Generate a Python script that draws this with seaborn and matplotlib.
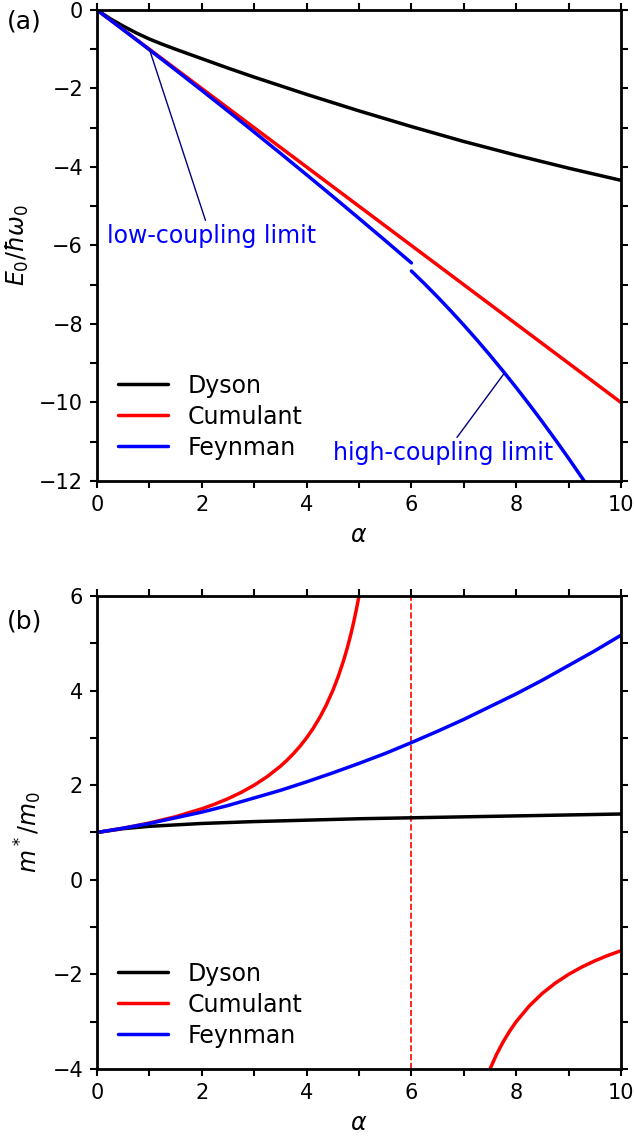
import pandas as pd
import matplotlib
matplotlib.use("Agg")
import matplotlib.pyplot as plt
import seaborn as sns
from matplotlib.ticker import MultipleLocator

# ---- panel (a): ground-state energy E0/hbar w0 vs alpha ----
alpha_dyson_e = [0, 0.25, 0.5, 0.75, 1, 1.25, 1.5, 2, 2.5, 3, 3.5, 4, 5, 6,
                 7, 8, 9, 10]
e_dyson = [0, -0.22, -0.41, -0.585, -0.74, -0.875, -1.00, -1.24, -1.48,
           -1.71, -1.93, -2.15, -2.57, -2.97, -3.35, -3.70, -4.03, -4.34]

alpha_cum_e = [0, 10]
e_cum = [0, -10]

alpha_feyn_low = [0, 0.5, 1, 1.5, 2, 2.5, 3, 3.5, 4, 4.5, 5, 5.5, 6]
e_feyn_low = [0, -0.503, -1.012, -1.528, -2.049, -2.577, -3.111, -3.651,
              -4.198, -4.750, -5.309, -5.873, -6.444]
alpha_feyn_high = [6, 6.25, 6.5, 6.75, 7, 7.25, 7.5, 7.75, 8, 8.25, 8.5,
                   8.75, 9, 9.3]
e_feyn_high = [-6.649, -6.974, -7.312, -7.664, -8.028, -8.406, -8.797,
               -9.202, -9.620, -10.051, -10.495, -10.953, -11.423, -12.006]

# ---- panel (b): effective mass m*/m0 vs alpha ----
alpha_dyson_m = [0, 0.5, 1, 1.5, 2, 3, 4, 5, 6, 7, 8, 9, 10]
m_dyson = [1.0, 1.08, 1.13, 1.16, 1.19, 1.23, 1.26, 1.29, 1.31, 1.33, 1.35,
           1.37, 1.39]

alpha_cum_m1 = [0, 0.5, 1, 1.5, 2, 2.25, 2.5, 2.75, 3, 3.25, 3.5, 3.625,
                3.75, 3.875, 4, 4.125, 4.25, 4.375, 4.5, 4.6, 4.7, 4.75,
                4.8, 4.85, 4.9, 4.95, 5.0, 5.05]
m_cum1 = [1.0, 1.091, 1.2, 1.333, 1.5, 1.6, 1.714, 1.846, 2.0, 2.182, 2.4,
          2.526, 2.667, 2.824, 3.0, 3.2, 3.429, 3.692, 4.0, 4.286, 4.615,
          4.8, 5.0, 5.217, 5.455, 5.714, 6.0, 6.316]
alpha_cum_m2 = [7.45, 7.5, 7.625, 7.75, 7.875, 8, 8.25, 8.5, 8.75, 9, 9.25,
                9.5, 9.75, 10]
m_cum2 = [-4.138, -4.0, -3.692, -3.429, -3.2, -3.0, -2.667, -2.4, -2.182,
          -2.0, -1.846, -1.714, -1.6, -1.5]

alpha_feyn_m = [0, 0.5, 1, 1.5, 2, 2.5, 3, 3.5, 4, 4.5, 5, 5.5, 6, 6.5, 7,
                7.5, 8, 8.5, 9, 9.5, 10]
m_feyn = [1.0, 1.09, 1.19, 1.31, 1.43, 1.57, 1.73, 1.89, 2.07, 2.26, 2.46,
          2.67, 2.90, 3.14, 3.39, 3.66, 3.93, 4.22, 4.53, 4.84, 5.17]

colors = {"Dyson": "black", "Cumulant": "red", "Feynman": "blue"}

sns.set_style("ticks")
plt.rcParams["font.family"] = ["DejaVu Sans"]
plt.rcParams["mathtext.fontset"] = "dejavusans"
for key in ["axes.edgecolor", "axes.labelcolor", "text.color",
            "xtick.color", "ytick.color"]:
    plt.rcParams[key] = "black"

fig = plt.figure(figsize=(6.34, 11.36), dpi=100)
ax1 = fig.add_axes([0.153, 0.5766, 0.8265, 0.4146])
ax2 = fig.add_axes([0.153, 0.059, 0.8265, 0.4164])

lw = 2.5


def seg(ax, x, y, name, lab=True):
    sns.lineplot(x=x, y=y, ax=ax, color=colors[name], lw=lw,
                 label=name if lab else None, legend=False)


seg(ax1, alpha_dyson_e, e_dyson, "Dyson")
seg(ax1, alpha_cum_e, e_cum, "Cumulant")
seg(ax1, alpha_feyn_low, e_feyn_low, "Feynman")
seg(ax1, alpha_feyn_high, e_feyn_high, "Feynman", lab=False)

seg(ax2, alpha_dyson_m, m_dyson, "Dyson")
seg(ax2, alpha_cum_m1, m_cum1, "Cumulant")
seg(ax2, alpha_cum_m2, m_cum2, "Cumulant", lab=False)
seg(ax2, alpha_feyn_m, m_feyn, "Feynman")
ax2.axvline(6, color="red", lw=1.2, ls="--", zorder=1)

# leader lines and labels on panel (a)
ax1.annotate("", xy=(1.0, -1.0), xytext=(2.07, -5.36),
             arrowprops=dict(arrowstyle="-", color="navy", lw=1,
                             shrinkA=0, shrinkB=0))
ax1.text(2.19, -5.75, "low-coupling limit", color="blue", fontsize=17,
         ha="center", va="center")
ax1.annotate("", xy=(7.77, -9.26), xytext=(6.87, -10.89),
             arrowprops=dict(arrowstyle="-", color="navy", lw=1,
                             shrinkA=0, shrinkB=0))
ax1.text(6.61, -11.29, "high-coupling limit", color="blue", fontsize=17,
         ha="center", va="center")

ax1.set_xlim(0, 10)
ax1.set_ylim(-12, 0)
ax2.set_xlim(0, 10)
ax2.set_ylim(-4, 6)
ax1.set_ylabel(r"$E_0/\hbar\omega_0$", fontsize=17, labelpad=6)
ax2.set_ylabel(r"$m^*/m_0$", fontsize=17, labelpad=6)

for ax in (ax1, ax2):
    ax.set_xlabel(r"$\alpha$", fontsize=17, labelpad=6)
    ax.xaxis.set_major_locator(MultipleLocator(2))
    ax.xaxis.set_minor_locator(MultipleLocator(1))
    ax.yaxis.set_major_locator(MultipleLocator(2))
    ax.yaxis.set_minor_locator(MultipleLocator(1))
    ax.tick_params(which="both", direction="out", top=True, right=True,
                   length=5, width=1.5, labelsize=15, pad=5)
    for s in ax.spines.values():
        s.set_linewidth(2.0)
    h, l = ax.get_legend_handles_labels()
    ax.legend(h, l, loc="lower left", frameon=False, fontsize=17,
              handlelength=2.1, handletextpad=0.85, labelspacing=0.3)

fig.text(0.011, 1 - 22 / 1136, "(a)", fontsize=18, va="center", ha="left")
fig.text(0.011, 1 - 621 / 1136, "(b)", fontsize=18, va="center", ha="left")

fig.savefig("out.png", dpi=100)
